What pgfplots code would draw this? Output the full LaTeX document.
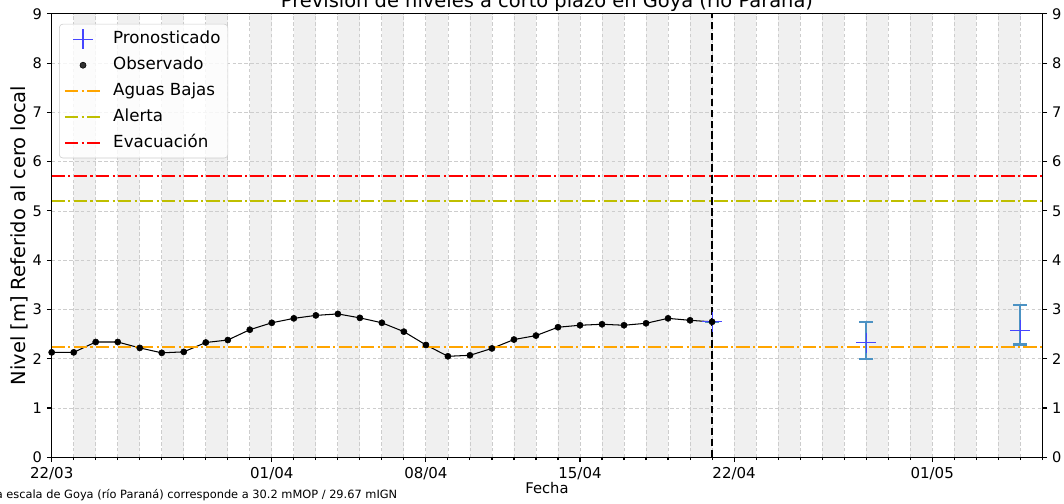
\documentclass[border=0pt]{standalone}
\usepackage{fontspec}
\setmainfont{DejaVu Sans}
\usepackage{pgfplots}
\pgfplotsset{compat=1.18}
\usepackage{pgfplotstable}

\definecolor{errcol}{RGB}{76,146,195}
\definecolor{bandgray}{RGB}{240,240,240}
\definecolor{gridgray}{RGB}{205,205,205}
\definecolor{mplorange}{RGB}{255,165,0}
\definecolor{mplolive}{RGB}{191,191,0}
\definecolor{fcblue}{RGB}{70,70,255}

\pgfplotstableread{
x y
0 2.13
1 2.13
2 2.34
3 2.34
4 2.22
5 2.12
6 2.14
7 2.33
8 2.38
9 2.59
10 2.73
11 2.82
12 2.88
13 2.91
14 2.83
15 2.73
16 2.55
17 2.28
18 2.05
19 2.07
20 2.21
21 2.39
22 2.47
23 2.64
24 2.68
25 2.70
26 2.68
27 2.72
28 2.82
29 2.78
30 2.75
}\obs

\pgfplotstableread{
x y ep em
30 2.75 0 0
37 2.33 0.42 0.33
44 2.575 0.515 0.285
}\fc

\pgfplotstableread{
x y
0 0
1 9
2 0
3 9
4 0
5 9
6 0
7 9
8 0
9 9
10 0
11 9
12 0
13 9
14 0
15 9
16 0
17 9
18 0
19 9
20 0
21 9
22 0
23 9
24 0
25 9
26 0
27 9
28 0
29 9
30 0
31 9
32 0
33 9
34 0
35 9
36 0
37 9
38 0
39 9
40 0
41 9
42 0
43 9
44 0
45 0
}\bands

\pgfplotsset{
  linelegend/.style={legend image code/.code={\draw[##1] (0pt,0pt) -- (26pt,0pt);}},
  marklegend/.style={legend image code/.code={\draw[mark repeat=2,mark phase=2,##1] plot coordinates {(0pt,0pt) (13pt,0pt) (26pt,0pt)};}},
}

\begin{document}
\begin{tikzpicture}
\begin{axis}[
  name=main,
  at={(0,0)}, anchor=south west,
  scale only axis, width=713.2pt, height=319.3pt,
  set layers=standard,
  xmin=0, xmax=45, ymin=0, ymax=9,
  xtick={0,10,17,24,31,40},
  xticklabels={22/03,01/04,08/04,15/04,22/04,01/05},
  minor xtick={0,...,45},
  ytick={0,...,9},
  tick align=outside,
  xtick pos=bottom, ytick pos=left,
  major tick length=3.5pt, minor tick length=2pt,
  tick style={line width=0.8pt, black},
  axis line style={line width=0.8pt, black},
  grid=both,
  major grid style={gridgray, dash pattern=on 2.6pt off 1.6pt, line width=0.6pt},
  minor grid style={gridgray, dash pattern=on 2.6pt off 1.6pt, line width=0.6pt},
  /pgf/number format/assume math mode=true,
  xticklabel style={font=\fontsize{10.8}{13}\selectfont},
  yticklabel style={font=\fontsize{10.5}{13}\selectfont},
  every axis title shift=0pt,
  title={Previsión de niveles a corto plazo en Goya (río Paraná)},
  title style={at={(axis description cs:0.5,1)}, anchor=base, yshift=4.3pt, font=\fontsize{14}{16}\selectfont},
  ylabel={Nivel [m] Referido al cero local},
  ylabel style={at={(axis description cs:-0.02695,0.5)}, anchor=base, rotate=0, font=\fontsize{14}{16}\selectfont},
  xlabel={Fecha},
  xlabel style={at={(axis description cs:0.5,0)}, anchor=base, yshift=-25.9pt, font=\fontsize{10.6}{13}\selectfont},
  legend cell align=left,
  legend style={at={(axis description cs:0,1)}, anchor=north west, xshift=5.3pt, yshift=-7.2pt,
    font=\fontsize{12}{14}\selectfont, draw=gray!40, rounded corners=2.5pt,
    fill=white, fill opacity=0.8, text opacity=1, inner sep=3.3pt, row sep=3.2pt, column sep=6pt,
    nodes={inner sep=2pt, text height=8.8pt, text depth=2.6pt}},
]
\addplot[on layer=axis background, const plot, fill=bandgray, draw=none, forget plot] table[x=x,y=y] {\bands} \closedcycle;

\addplot[only marks, mark=+, mark size=7.2pt, fcblue, line width=0.8pt, marklegend,
  error bars/.cd, y dir=both, y explicit,
  error bar style={errcol, line width=1.5pt},
  error mark options={errcol, line width=1.5pt, mark size=5pt, rotate=90}]
  table[x=x, y=y, y error plus=ep, y error minus=em] {\fc};
\addlegendentry{Pronosticado}

\addplot[black, line width=0.75pt, forget plot] table[x=x,y=y] {\obs};
\addplot[only marks, mark=*, mark size=2.2pt, black, marklegend] table[x=x,y=y] {\obs};
\addlegendentry{Observado}

\addplot[mplorange, line width=1.5pt, dash pattern=on 9.6pt off 2.4pt on 1.5pt off 2.4pt, linelegend] coordinates {(0,2.24) (45,2.24)};
\addlegendentry{Aguas Bajas}
\addplot[mplolive, line width=1.5pt, dash pattern=on 9.6pt off 2.4pt on 1.5pt off 2.4pt, linelegend] coordinates {(0,5.2) (45,5.2)};
\addlegendentry{Alerta}
\addplot[red, line width=1.5pt, dash pattern=on 9.6pt off 2.4pt on 1.5pt off 2.4pt, linelegend] coordinates {(0,5.7) (45,5.7)};
\addlegendentry{Evacuación}

\addplot[black, line width=1.5pt, dash pattern=on 5.5pt off 2.4pt, forget plot] coordinates {(30,0) (30,9)};
\end{axis}

\begin{axis}[
  at={(0,0)}, anchor=south west,
  scale only axis, width=713.2pt, height=319.3pt,
  xmin=0, xmax=45, ymin=0, ymax=9,
  axis x line=none, axis y line*=right,
  ytick={0,...,9},
  tick align=outside,
  major tick length=3.5pt,
  tick style={line width=0.8pt, black},
  axis line style={line width=0.8pt, black},
  /pgf/number format/assume math mode=true,
  yticklabel style={font=\fontsize{10.5}{13}\selectfont},
]
\addplot[draw=none, forget plot] coordinates {(0,0) (45,9)};
\end{axis}

\node[anchor=base east, inner sep=0pt, font=\fontsize{8.2}{10}\selectfont] at ([xshift=249pt, yshift=-29.5pt]main.south west) {El cero de la escala de Goya (río Paraná) corresponde a 30.2 mMOP / 29.67 mIGN};

\pgfresetboundingbox
\useasboundingbox (-37.22pt,-32.90pt) rectangle (728.86pt,329.26pt);
\end{tikzpicture}
\end{document}
